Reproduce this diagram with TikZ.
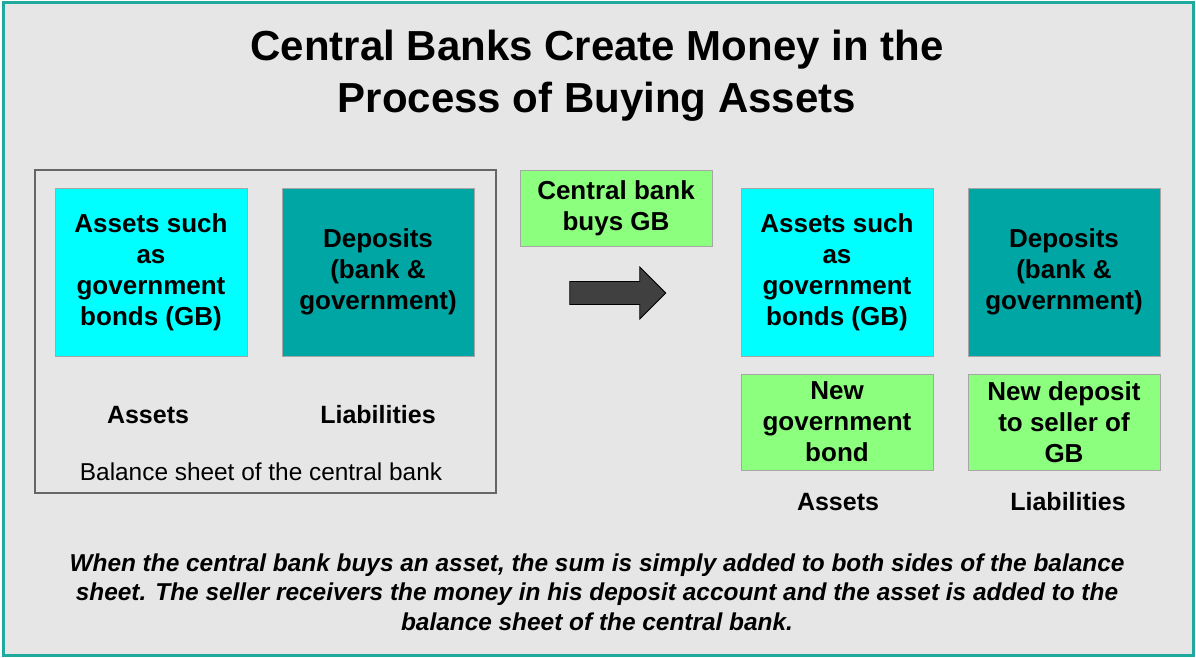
\documentclass[tikz,border=0pt]{standalone}
\usepackage{fontspec}
\setmainfont{Liberation Sans}
\usetikzlibrary{positioning,shapes.arrows}
\definecolor{frameteal}{HTML}{1FA99F}
\definecolor{bggray}{HTML}{E6E6E6}
\definecolor{aqua}{HTML}{00FFFF}
\definecolor{darkteal}{HTML}{00A6A3}
\definecolor{lgreen}{HTML}{8CFF7E}
\tikzset{
  asset/.style={draw=gray!70, fill=aqua, minimum width=96pt, minimum height=84pt, align=center, font=\bfseries\fontsize{13}{15.5}\selectfont, inner sep=0pt},
  liab/.style={asset, fill=darkteal},
  newitem/.style={asset, fill=lgreen, minimum height=48pt},
  lbl/.style={font=\bfseries\fontsize{12.5}{14}\selectfont}
}
\begin{document}
\begin{tikzpicture}[x=0.5pt,y=-0.5pt]
\useasboundingbox (0,0) rectangle (1196,658);
\draw[frameteal, line width=1.5pt, fill=bggray] (3,3) rectangle (1193,655);

\node (title) at (597,76) [align=center, font=\bfseries\fontsize{21}{26}\selectfont] {Central Banks Create Money in the\\Process of Buying Assets};

% before
\draw[gray!80!black, line width=0.7pt] (35,170) rectangle (496,493);
\node (a1) at (151,272) [asset] {Assets such\\as\\government\\bonds (GB)};
\node (l1) at (378,272) [liab] {Deposits\\(bank \&\\government)};
\node (as1) at (148,415) [lbl] {Assets};
\node (li1) at (378,415) [lbl] {Liabilities};
\node (bs) at (261,472) [font=\fontsize{12.2}{14}\selectfont] {Balance sheet of the central bank};

% purchase
\node (buy) at (616,208) [newitem, minimum height=38pt] {Central bank\\buys GB};
\node (arr) at (612,293) [single arrow, draw=black, fill=black!75, minimum height=48pt, minimum width=26pt, single arrow head extend=4pt, inner sep=3pt] {};

% after
\node (a2) at (837,272) [asset] {Assets such\\as\\government\\bonds (GB)};
\node (l2) at (1064,272) [liab] {Deposits\\(bank \&\\government)};
\node (n1) at (837,422) [newitem] {New\\government\\bond};
\node (n2) at (1064,422) [newitem] {New deposit\\to seller of\\GB};
\node (as2) at (838,502) [lbl] {Assets};
\node (li2) at (1068,502) [lbl] {Liabilities};

\node (note) at (597,592) [align=center, font=\bfseries\itshape\fontsize{12.2}{14.8}\selectfont] {When the central bank buys an asset, the sum is simply added to both sides of the balance\\sheet. The seller receivers the money in his deposit account and the asset is added to the\\balance sheet of the central bank.};
\end{tikzpicture}
\end{document}
